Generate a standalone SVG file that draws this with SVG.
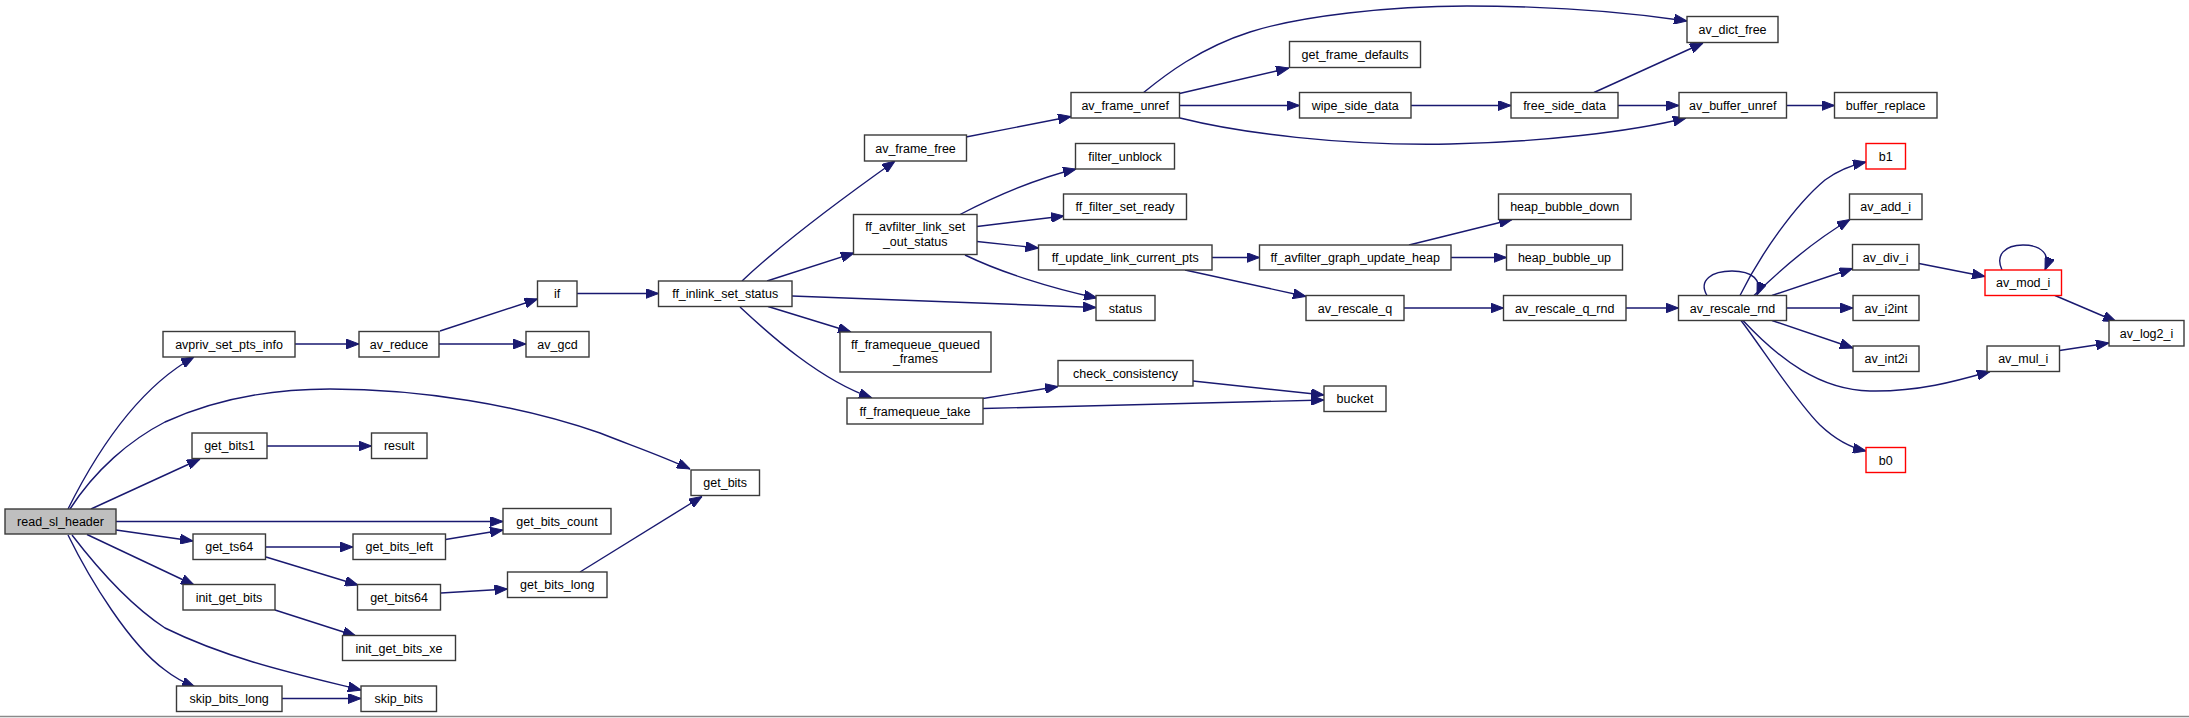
<svg xmlns="http://www.w3.org/2000/svg" width="2189" height="718" viewBox="0 0 2189 718">
<style>
.node rect{fill:#ffffff;stroke:#3a3a3a;stroke-width:1.4}
.node.red rect{stroke:#ff0000}
.node.hl rect{fill:#bfbfbf}
.node text{font-family:"Liberation Sans",Arial,sans-serif;font-size:12.5px;fill:#000;text-anchor:middle}
.edges path{fill:none;stroke:#191970;stroke-width:1.4;marker-end:url(#arr)}
</style>
<defs>
<marker id="arr" markerUnits="userSpaceOnUse" markerWidth="13" markerHeight="10" viewBox="0 0 13 10" refX="13" refY="5" orient="auto">
<path d="M0,0 L13,5 L0,10 z" fill="#191970" stroke="#191970" stroke-width="1"/>
</marker>
</defs>
<rect x="0" y="0" width="2189" height="718" fill="#ffffff"/>
<line x1="0" y1="716.5" x2="2189" y2="716.5" stroke="#8a8a8a" stroke-width="1.5"/>
<g class="edges" id="edges">
<path d="M68,509 C95,455 135,390 194,357"/>
<path d="M70,509 C95,470 130,440 165,422 C220,397 280,389 330,389 C420,389 520,405 600,433 C630,445 660,455 690,469"/>
<path d="M91,509 L200,459"/>
<path d="M116,521.5 L503,521.5"/>
<path d="M116,530 L193,541"/>
<path d="M87,534.5 L194,585"/>
<path d="M68,535 C90,580 130,645 165,670 C175,678 185,683 195,687"/>
<path d="M72,535 C95,565 130,605 165,628 C230,660 300,675 361,690"/>
<path d="M295,344 L359,344"/>
<path d="M440,331 L537.5,299"/>
<path d="M439,344 L526,344"/>
<path d="M267,446 L371.5,446"/>
<path d="M265.5,547 L353,547"/>
<path d="M266,557 L358,585"/>
<path d="M445.5,539.5 L503,530"/>
<path d="M441,593 L507.5,589"/>
<path d="M580,572 L702,496.5"/>
<path d="M275,610 L356,636"/>
<path d="M282,698.5 L361,698.5"/>
<path d="M577,293.5 L658.5,293.5"/>
<path d="M742,281 C780,245 840,200 895,161"/>
<path d="M767,281 L854,253"/>
<path d="M792,296 L1096,307.5"/>
<path d="M768,306.5 L851,332"/>
<path d="M740,307 C770,335 820,380 872,398"/>
<path d="M966,137 L1071,116.5"/>
<path d="M1143,93 C1165,75 1200,48 1250,32 C1300,16 1390,6 1467,6 C1560,6 1640,14 1687,21"/>
<path d="M1179.5,93.5 L1289,68"/>
<path d="M1179.5,105.5 L1299.5,105.5"/>
<path d="M1180,118 C1240,133 1340,146 1450,144 C1540,142 1630,132 1686,118"/>
<path d="M1411,105.5 L1511,105.5"/>
<path d="M1594,92.5 L1703,43"/>
<path d="M1618,105.5 L1679,105.5"/>
<path d="M1786.5,105.5 L1834.5,105.5"/>
<path d="M960,214.5 C990,199 1030,180 1076,169"/>
<path d="M977,226.5 L1064,216"/>
<path d="M977,241.5 L1038.5,248"/>
<path d="M965,255 C1000,272 1050,288 1097,298"/>
<path d="M1212,257.5 L1259.5,257.5"/>
<path d="M1185,270 L1306,296.5"/>
<path d="M1409,245 L1512,219.5"/>
<path d="M1451,257.5 L1506.5,257.5"/>
<path d="M1404,308 L1503.5,308"/>
<path d="M1626,308 L1678.5,308"/>
<path d="M1707,295.5 C1698,280 1712,271 1732,271 C1752,271 1763,280 1757,295"/>
<path d="M1740,295.5 C1760,255 1795,205 1825,180 C1840,169 1852,165 1866,162"/>
<path d="M1754,295.5 C1775,275 1810,243 1850,219.5"/>
<path d="M1772,295.5 L1852.5,268.5"/>
<path d="M1786.5,308 L1853,308"/>
<path d="M1772,320.5 L1853,348"/>
<path d="M1743,320.5 C1780,360 1820,390 1870,391 C1920,392 1960,380 1990,371.5"/>
<path d="M1741,320.5 C1760,345 1795,400 1820,425 C1838,442 1852,448 1866,451"/>
<path d="M1919,263.5 L1985,276.5"/>
<path d="M2002,270 C1995,255 2005,245 2023,245 C2042,245 2051,255 2045,270"/>
<path d="M2055,295.5 L2116,321.5"/>
<path d="M2059.5,350.5 L2109,343"/>
<path d="M983,398.5 L1058,386.5"/>
<path d="M983,408.5 L1324,400"/>
<path d="M1193,381 L1324,395"/>
</g>
<g id="n_read_sl_header" class="node hl"><rect x="5" y="509" width="111" height="25"/><text x="60.5" y="526">read_sl_header</text></g>
<g id="n_avpriv_set_pts_info" class="node"><rect x="163" y="331.5" width="132" height="25.5"/><text x="229" y="348.7">avpriv_set_pts_info</text></g>
<g id="n_av_reduce" class="node"><rect x="359" y="331.5" width="80" height="25.5"/><text x="399" y="348.7">av_reduce</text></g>
<g id="n_if" class="node"><rect x="537.5" y="281" width="39.5" height="25.5"/><text x="557.2" y="298.2">if</text></g>
<g id="n_av_gcd" class="node"><rect x="526" y="331.5" width="63" height="25.5"/><text x="557.5" y="348.7">av_gcd</text></g>
<g id="n_ff_inlink_set_status" class="node"><rect x="658.5" y="281" width="133.5" height="25.5"/><text x="725.2" y="298.2">ff_inlink_set_status</text></g>
<g id="n_av_frame_free" class="node"><rect x="864.5" y="135" width="102" height="26"/><text x="915.5" y="152.5">av_frame_free</text></g>
<g id="n_av_frame_unref" class="node"><rect x="1071" y="92.5" width="108.5" height="25.5"/><text x="1125.2" y="109.7">av_frame_unref</text></g>
<g id="n_get_frame_defaults" class="node"><rect x="1289.5" y="41.5" width="131" height="26"/><text x="1355" y="59">get_frame_defaults</text></g>
<g id="n_wipe_side_data" class="node"><rect x="1299.5" y="92.5" width="111.5" height="25.5"/><text x="1355.2" y="109.7">wipe_side_data</text></g>
<g id="n_free_side_data" class="node"><rect x="1511" y="92.5" width="107" height="25.5"/><text x="1564.5" y="109.7">free_side_data</text></g>
<g id="n_av_dict_free" class="node"><rect x="1687" y="16.5" width="91" height="26"/><text x="1732.5" y="34">av_dict_free</text></g>
<g id="n_av_buffer_unref" class="node"><rect x="1679" y="92.5" width="107.5" height="25.5"/><text x="1732.7" y="109.7">av_buffer_unref</text></g>
<g id="n_buffer_replace" class="node"><rect x="1834.5" y="92.5" width="102.5" height="25.5"/><text x="1885.7" y="109.7">buffer_replace</text></g>
<g id="n_filter_unblock" class="node"><rect x="1075.5" y="143.5" width="99" height="25.5"/><text x="1125" y="160.7">filter_unblock</text></g>
<g id="n_ff_avfilter_link_set_out_status" class="node"><rect x="853.5" y="214.5" width="123.5" height="40"/><text x="915.2" y="231">ff_avfilter_link_set</text><text x="915.2" y="245.5">_out_status</text></g>
<g id="n_ff_filter_set_ready" class="node"><rect x="1063.5" y="194" width="123" height="25.5"/><text x="1125" y="211.2">ff_filter_set_ready</text></g>
<g id="n_ff_update_link_current_pts" class="node"><rect x="1038.5" y="245" width="173.5" height="25"/><text x="1125.2" y="262">ff_update_link_current_pts</text></g>
<g id="n_ff_avfilter_graph_update_heap" class="node"><rect x="1259.5" y="245" width="191.5" height="25"/><text x="1355.2" y="262">ff_avfilter_graph_update_heap</text></g>
<g id="n_heap_bubble_down" class="node"><rect x="1498.5" y="194" width="132.5" height="25.5"/><text x="1564.7" y="211.2">heap_bubble_down</text></g>
<g id="n_heap_bubble_up" class="node"><rect x="1506.5" y="245" width="116" height="25"/><text x="1564.5" y="262">heap_bubble_up</text></g>
<g id="n_status" class="node"><rect x="1096" y="295.5" width="59" height="25"/><text x="1125.5" y="312.5">status</text></g>
<g id="n_av_rescale_q" class="node"><rect x="1306" y="295.5" width="98" height="25"/><text x="1355" y="312.5">av_rescale_q</text></g>
<g id="n_av_rescale_q_rnd" class="node"><rect x="1503.5" y="295.5" width="122.5" height="25"/><text x="1564.7" y="312.5">av_rescale_q_rnd</text></g>
<g id="n_av_rescale_rnd" class="node"><rect x="1678.5" y="295.5" width="108" height="25"/><text x="1732.5" y="312.5">av_rescale_rnd</text></g>
<g id="n_b1" class="node red"><rect x="1866" y="143.5" width="39.5" height="25.5"/><text x="1885.7" y="160.7">b1</text></g>
<g id="n_av_add_i" class="node"><rect x="1849.5" y="194" width="72.5" height="25.5"/><text x="1885.7" y="211.2">av_add_i</text></g>
<g id="n_av_div_i" class="node"><rect x="1852.5" y="244.5" width="66.5" height="25.5"/><text x="1885.7" y="261.7">av_div_i</text></g>
<g id="n_av_i2int" class="node"><rect x="1853" y="295.5" width="66" height="25"/><text x="1886" y="312.5">av_i2int</text></g>
<g id="n_av_int2i" class="node"><rect x="1853" y="346" width="66" height="25.5"/><text x="1886" y="363.2">av_int2i</text></g>
<g id="n_av_mod_i" class="node red"><rect x="1985" y="270" width="76.5" height="25.5"/><text x="2023.2" y="287.2">av_mod_i</text></g>
<g id="n_av_log2_i" class="node"><rect x="2109" y="320.5" width="75" height="25.5"/><text x="2146.5" y="337.7">av_log2_i</text></g>
<g id="n_av_mul_i" class="node"><rect x="1987" y="346" width="72.5" height="25.5"/><text x="2023.2" y="363.2">av_mul_i</text></g>
<g id="n_b0" class="node red"><rect x="1866" y="447.5" width="39.5" height="25"/><text x="1885.7" y="464.5">b0</text></g>
<g id="n_ff_framequeue_queued_frames" class="node"><rect x="840" y="332" width="151" height="40"/><text x="915.5" y="348.5">ff_framequeue_queued</text><text x="915.5" y="363">_frames</text></g>
<g id="n_ff_framequeue_take" class="node"><rect x="847" y="398" width="136" height="26"/><text x="915" y="415.5">ff_framequeue_take</text></g>
<g id="n_check_consistency" class="node"><rect x="1058" y="360.5" width="135" height="25.5"/><text x="1125.5" y="377.7">check_consistency</text></g>
<g id="n_bucket" class="node"><rect x="1324" y="386" width="62" height="25.5"/><text x="1355" y="403.2">bucket</text></g>
<g id="n_get_bits1" class="node"><rect x="192" y="433" width="75" height="25.5"/><text x="229.5" y="450.2">get_bits1</text></g>
<g id="n_result" class="node"><rect x="371.5" y="433" width="55.5" height="25.5"/><text x="399.2" y="450.2">result</text></g>
<g id="n_get_bits" class="node"><rect x="691" y="470" width="68.5" height="25.5"/><text x="725.2" y="487.2">get_bits</text></g>
<g id="n_get_bits_count" class="node"><rect x="503" y="508.5" width="108" height="25.5"/><text x="557" y="525.7">get_bits_count</text></g>
<g id="n_get_ts64" class="node"><rect x="193" y="534" width="72.5" height="25.5"/><text x="229.2" y="551.2">get_ts64</text></g>
<g id="n_get_bits_left" class="node"><rect x="353" y="534" width="92.5" height="25.5"/><text x="399.2" y="551.2">get_bits_left</text></g>
<g id="n_get_bits_long" class="node"><rect x="507.5" y="572" width="99.5" height="25.5"/><text x="557.2" y="589.2">get_bits_long</text></g>
<g id="n_init_get_bits" class="node"><rect x="183" y="584.5" width="92" height="25.5"/><text x="229" y="601.7">init_get_bits</text></g>
<g id="n_get_bits64" class="node"><rect x="357.5" y="584.5" width="83" height="25.5"/><text x="399" y="601.7">get_bits64</text></g>
<g id="n_init_get_bits_xe" class="node"><rect x="342.5" y="635.5" width="113" height="25"/><text x="399" y="652.5">init_get_bits_xe</text></g>
<g id="n_skip_bits_long" class="node"><rect x="176.5" y="686" width="105.5" height="25.5"/><text x="229.2" y="703.2">skip_bits_long</text></g>
<g id="n_skip_bits" class="node"><rect x="361" y="686" width="75.5" height="25.5"/><text x="398.7" y="703.2">skip_bits</text></g>
</svg>
